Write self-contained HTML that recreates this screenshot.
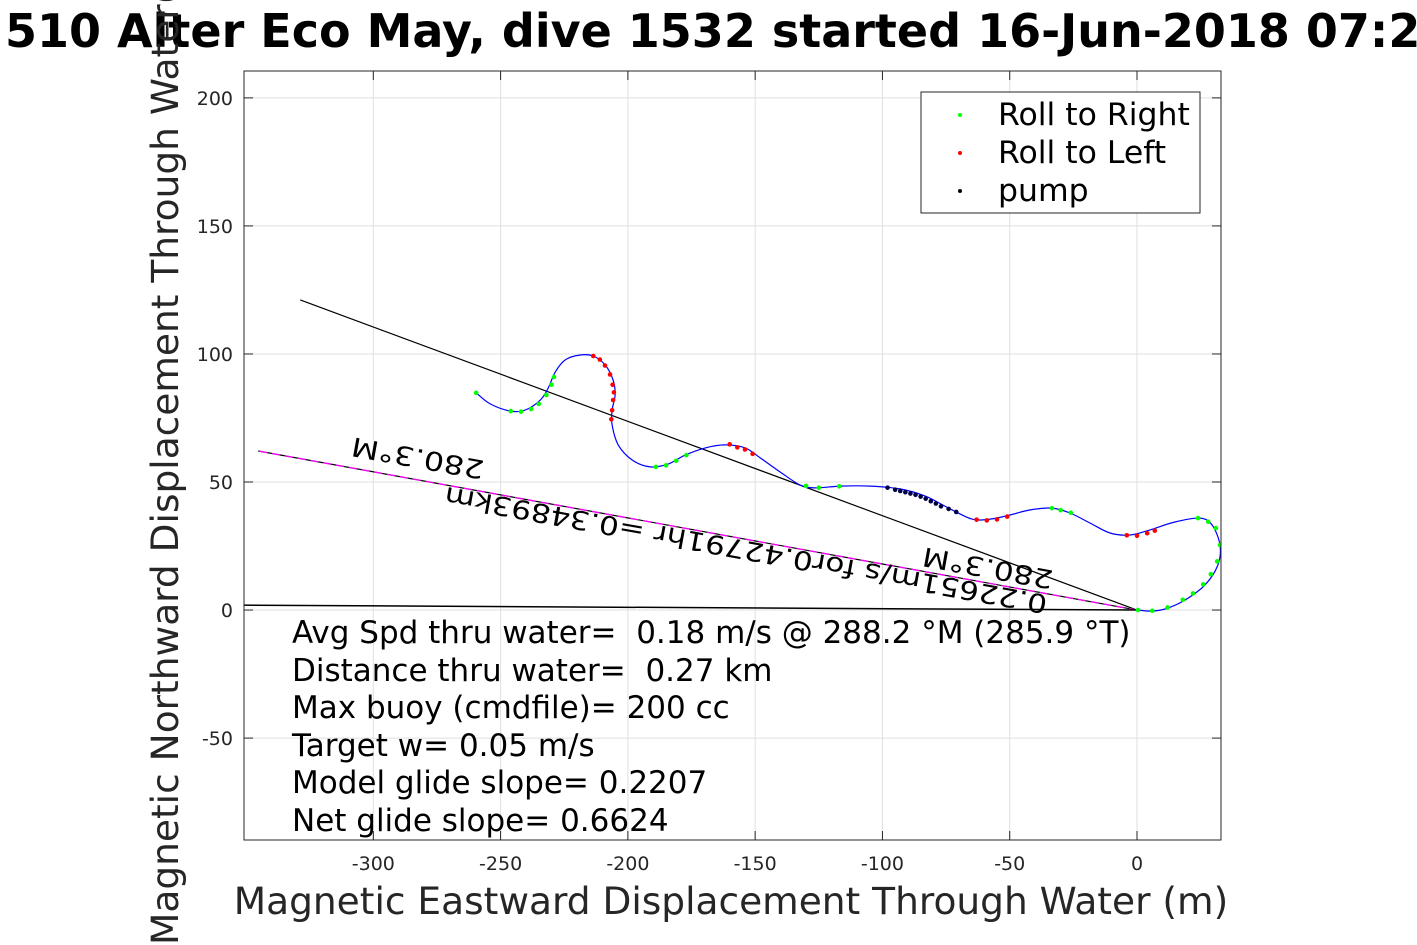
<!DOCTYPE html>
<html><head><meta charset="utf-8"><style>
html,body{margin:0;padding:0;background:#fff;}
svg{display:block;font-family:"DejaVu Sans","Liberation Sans",sans-serif;}
text{white-space:pre;}
</style></head><body>
<svg id="chart" width="1417" height="945" viewBox="0 0 1417 945" xmlns="http://www.w3.org/2000/svg" xml:space="preserve">
<defs><clipPath id="plotclip"><rect x="244" y="71" width="977" height="769"/></clipPath></defs>
<rect x="244" y="71" width="977" height="769" fill="#fff" stroke="none"/>
<g id="grid"></g>
<g id="axes"></g>
<g id="series" clip-path="url(#plotclip)"></g>
<rect x="244" y="71" width="977" height="769" fill="none" stroke="#262626" stroke-width="1"/>
<text x="5" y="47" font-size="46" font-weight="bold" fill="#000">510 Alter Eco May, dive 1532 started 16-Jun-2018 07:23</text>
<text x="731" y="914" font-size="37.5" fill="#262626" text-anchor="middle">Magnetic Eastward Displacement Through Water (m)</text>
<text transform="translate(178,945) rotate(-90)" x="0" y="0" font-size="37.5" fill="#262626">Magnetic Northward Displacement Through Water(m)</text>
<g>
<rect x="921" y="92" width="279" height="121" fill="#fff" stroke="#262626" stroke-width="1"/>
<circle cx="960" cy="115" r="2" fill="#00ff00"/>
<text x="998" y="125" font-size="31.5" fill="#000">Roll to Right</text>
<circle cx="960" cy="153" r="2" fill="#ff0000"/>
<text x="998" y="163" font-size="31.5" fill="#000">Roll to Left</text>
<circle cx="960" cy="191" r="2" fill="#000"/>
<text x="998" y="201" font-size="31.5" fill="#000">pump</text>
</g>
<g font-size="31" fill="#000">
<text x="292" y="643">Avg Spd thru water=  0.18 m/s @ 288.2 °M (285.9 °T)</text>
<text x="292" y="681">Distance thru water=  0.27 km</text>
<text x="292" y="718">Max buoy (cmdfile)= 200 cc</text>
<text x="292" y="756">Target w= 0.05 m/s</text>
<text x="292" y="793">Model glide slope= 0.2207</text>
<text x="292" y="831">Net glide slope= 0.6624</text>
</g>
</svg>
<script>
const xTicks = [-300, -250, -200, -150, -100, -50, 0];
const yTicks = [-50, 0, 50, 100, 150, 200];
const trackX = [-259.6,-254.1,-246.2,-240.3,-234.4,-231.3,-228.5,-224.6,-218.7,-213.6,-208.9,-205.8,-205.0,-206.2,-206.2,-203.8,-198.3,-191.2,-184.2,-177.5,-169.6,-161.8,-153.9,-148.0,-140.2,-132.3,-126.4,-116.6,-104.8,-93.1,-83.2,-73.4,-64.8,-57.7,-49.9,-42.0,-33.4,-26.3,-18.5,-10.6,-2.7,5.1,14.9,24.7,29.5,32.6,31.8,26.7,18.8,11.0,5.1,0.4];
const trackY = [84.8,80.5,77.7,78.1,82.0,86.7,93.0,97.7,99.6,99.2,95.7,89.8,84.0,78.1,72.3,64.5,58.6,55.9,57.0,60.5,63.3,64.5,63.3,59.4,53.9,48.8,47.7,48.4,48.4,47.3,44.5,39.5,35.5,35.5,37.1,39.1,39.8,37.9,34.0,30.1,29.3,31.3,34.4,35.9,33.2,25.4,17.6,9.8,3.9,0.4,-0.4,0];
const rightX = [-259.6,-246,-242,-238,-235,-232,-230,-229,-189,-185,-181,-177,-130,-125,-117,-33.4,-30,-26,24,28,31,32.6,31.5,29,26,22,18,12,6,0.4];
const rightY = [84.8,77.7,77.5,78.5,80.5,84,88,91,55.9,56.5,58.3,60.5,48.5,47.8,48.3,39.8,39,38,35.9,34.5,32,25.4,19,14,10,6.5,4,1,-0.3,0];
const leftX = [-213.6,-211,-209,-207,-206,-205.5,-205.8,-206.2,-206.5,-160,-157,-154,-151,-63,-59,-55,-51,-4,0,4,7];
const leftY = [99.2,97.8,95.5,92,88,85,82,78,74.5,64.7,63.5,62.7,61,35.3,35,35.4,36.5,29.2,29,30,31];
const pumpX = [-98,-95,-93,-91,-89,-87,-85,-83,-81,-79,-77,-74,-71];
const pumpY = [47.8,47,46.5,46,45.5,45,44.3,43.5,42.5,41.6,40.5,39.5,38.3];
const headingLineEnd = [-328.7, 121.1];
const currentLineEnd = [-345.2, 62.1];
const netLineEnd = [-351, 1.9];

const NS="http://www.w3.org/2000/svg";
const X0=244,X1=1221,Y0=71,Y1=840,XMIN=-350.8,XMAX=33,YMIN=-89.8,YMAX=210.5;
function sx(v){return X0+(v-XMIN)/(XMAX-XMIN)*(X1-X0);}
function sy(v){return Y1-(v-YMIN)/(YMAX-YMIN)*(Y1-Y0);}
function mk(tag,attrs,parent){const e=document.createElementNS(NS,tag);for(const k in attrs)e.setAttribute(k,attrs[k]);parent.appendChild(e);return e;}
const grid=document.getElementById('grid'),axes=document.getElementById('axes'),ser=document.getElementById('series');
xTicks.forEach(t=>{
  const g=mk('line',{x1:sx(t),x2:sx(t),y1:Y0,y2:Y1,stroke:'#dfdfdf','stroke-width':1},grid);
  
  
  const tk=mk('line',{x1:sx(t),x2:sx(t),y1:Y1,y2:Y1-9,stroke:'#262626'},axes);
  
  
  const tk2=mk('line',{x1:sx(t),x2:sx(t),y1:Y0,y2:Y0+9,stroke:'#262626'},axes);
  
  
  const lb=mk('text',{x:sx(t),y:870,'font-size':19,fill:'#262626','text-anchor':'middle'},axes);
  lb.textContent=t;
  
  
});
yTicks.forEach(t=>{
  const g=mk('line',{x1:X0,x2:X1,y1:sy(t),y2:sy(t),stroke:'#dfdfdf','stroke-width':1},grid);
  
  
  const tk=mk('line',{x1:X0,x2:X0+9,y1:sy(t),y2:sy(t),stroke:'#262626'},axes);
  
  
  const tk2=mk('line',{x1:X1,x2:X1-9,y1:sy(t),y2:sy(t),stroke:'#262626'},axes);
  
  
  const lb=mk('text',{x:233,y:sy(t)+7,'font-size':19,fill:'#262626','text-anchor':'end'},axes);
  lb.textContent=t;
  
  
});
const l1=mk('line',{x1:sx(0),y1:sy(0),x2:sx(headingLineEnd[0]),y2:sy(headingLineEnd[1]),stroke:'#000','stroke-width':1.2},ser);


const l2=mk('line',{x1:sx(0),y1:sy(0),x2:sx(currentLineEnd[0]),y2:sy(currentLineEnd[1]),stroke:'#000','stroke-width':1.2},ser);


const l2m=mk('line',{x1:sx(0),y1:sy(0),x2:sx(currentLineEnd[0]),y2:sy(currentLineEnd[1]),stroke:'#ff00ff','stroke-width':1.3,'stroke-dasharray':'8 5'},ser);


const l3=mk('line',{x1:sx(0),y1:sy(0),x2:sx(netLineEnd[0]),y2:sy(netLineEnd[1]),stroke:'#000','stroke-width':1.5},ser);


// smoothed track (Catmull-Rom)
const P=trackX.map((v,i)=>[sx(v),sy(trackY[i])]);
let d='M'+P[0][0].toFixed(1)+','+P[0][1].toFixed(1);
for(let i=0;i<P.length-1;i++){
  const p0=P[Math.max(0,i-1)],p1=P[i],p2=P[i+1],p3=P[Math.min(P.length-1,i+2)];
  const c1=[p1[0]+(p2[0]-p0[0])/6,p1[1]+(p2[1]-p0[1])/6];
  const c2=[p2[0]-(p3[0]-p1[0])/6,p2[1]-(p3[1]-p1[1])/6];
  d+='C'+c1[0].toFixed(1)+','+c1[1].toFixed(1)+' '+c2[0].toFixed(1)+','+c2[1].toFixed(1)+' '+p2[0].toFixed(1)+','+p2[1].toFixed(1);
}
const tr=mk('path',{d:d,fill:'none',stroke:'#0000ff','stroke-width':1.2,'stroke-linejoin':'round'},ser);


function dots(xs,ys,col,name){xs.forEach((v,i)=>{
  const c=mk('circle',{cx:sx(v),cy:sy(ys[i]),r:2.3,fill:col},ser);
  
  
});}
dots(rightX,rightY,'#00ff00','roll-right-point');
dots(leftX,leftY,'#ff0000','roll-left-point');
dots(pumpX,pumpY,'#000044','pump-point');
function rtext(str,cx,cy,ang,name,len){
  const t=mk('text',{x:0,y:0,'font-size':26,fill:'#000','text-anchor':'middle','dominant-baseline':'central',transform:`translate(${cx},${cy}) rotate(${ang})`},ser);
  if(len){t.setAttribute('textLength',len);t.setAttribute('lengthAdjust','spacingAndGlyphs');}
  t.textContent=str;
  
  
}
rtext('280.3°M',418,457,190.25,'current-heading-label',134);
rtext('0.22651m/s for0.42791hr =0.34893km',746,549,190.25,'current-speed-label',612);
rtext('280.3°M',988,567,190.25,'heading-label',132);
</script>
</body></html>
